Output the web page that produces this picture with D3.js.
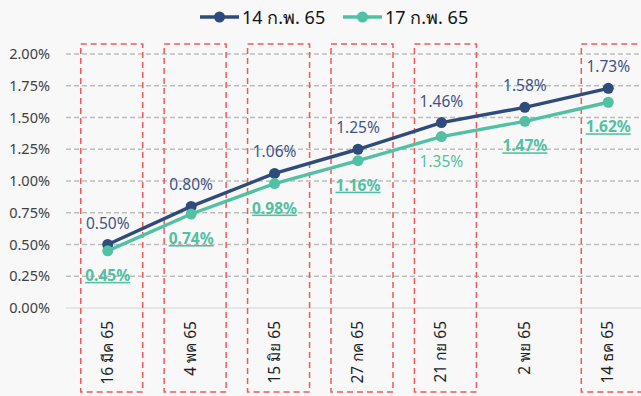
<!DOCTYPE html>
<html>
<head>
<meta charset="utf-8">
<script src="https://cdn.jsdelivr.net/npm/d3@7"></script>
<style>
  body { margin: 0; background: #f7f7f7; }
  svg { display: block; font-family: "Noto Sans", "DejaVu Sans", sans-serif; }
</style>
</head>
<body>
<svg id="chart"></svg>
<script>
const categories = ["16 มีค 65", "4 พค 65", "15 มิย 65", "27 กค 65", "21 กย 65", "2 พย 65", "14 ธค 65"];
const seriesNames = ["14 ก.พ. 65", "17 ก.พ. 65"];
const feb14 = [0.50, 0.80, 1.06, 1.25, 1.46, 1.58, 1.73];
const feb17 = [0.45, 0.74, 0.98, 1.16, 1.35, 1.47, 1.62];
// which teal labels are shown plain (not bold/underlined)
const feb17Plain = [false, false, false, false, true, false, false];
const boxed = ["16 มีค 65", "4 พค 65", "15 มิย 65", "27 กค 65", "21 กย 65", "14 ธค 65"];
const yTicks = [0, 0.25, 0.5, 0.75, 1.0, 1.25, 1.5, 1.75, 2.0];

const W = 641, H = 396;
const navy = "#2f4b7c", teal = "#52c0a2";

const svg = d3.select("#chart").attr("width", W).attr("height", H);

// faint background
svg.append("rect").attr("width", W).attr("height", H).attr("fill", "#f8f8f8");

let x = d3.scaleBand()
  .domain(categories)
  .range([66, 650])
  .padding(0);
let y = d3.scaleLinear()
  .domain([0, 2])
  .range([308, 54]);
const cx = d => x(d) + x.bandwidth() / 2;

// gridlines
svg.append("g").selectAll("line")
  .data(yTicks.filter(d => d > 0))
  .enter().append("line")
  .attr("x1", 66).attr("x2", W)
  .attr("y1", d => y(d)).attr("y2", d => y(d))
  .style("stroke", "#bdbdbd")
  .style("stroke-width", 1.3)
  .style("stroke-dasharray", "5,3");
svg.append("line") // zero line
  .attr("x1", 66).attr("x2", W)
  .attr("y1", y(0)).attr("y2", y(0))
  .style("stroke", "#d4d4d4")
  .style("stroke-width", 1);

// y axis labels
let yAxis = d3.axisLeft(y).tickValues(yTicks).tickSize(0).tickPadding(0)
  .tickFormat(d => d3.format(".2f")(d) + "%");
svg.append("g")
  .attr("transform", "translate(50,0)")
  .call(yAxis)
  .call(g => {
    g.select(".domain").remove();
    g.selectAll(".tick text")
      .attr("fill", "#404040")
      .style("font-size", "14.5px")
      .style("font-family", "'Noto Sans', 'DejaVu Sans', sans-serif");
  });

// x labels (rotated)
svg.append("g").selectAll("text")
  .data(categories)
  .enter().append("text")
  .attr("transform", d => `translate(${cx(d) + 5},321) rotate(-90)`)
  .attr("text-anchor", "end")
  .attr("fill", "#1e1e1e")
  .style("font-size", "15.5px")
  .text(d => d);

// red dashed boxes
svg.append("g").selectAll("rect")
  .data(boxed)
  .enter().append("rect")
  .attr("x", d => cx(d) - 27)
  .attr("y", 44)
  .attr("width", 62)
  .attr("height", 348)
  .attr("fill", "none")
  .style("stroke", "#ee5a5a")
  .style("stroke-width", 1.5)
  .style("stroke-dasharray", "6,4");

// lines
const line = d3.line().x((d, i) => cx(categories[i])).y(d => y(d));
[[feb14, navy], [feb17, teal]].forEach(([vals, col]) => {
  svg.append("path")
    .datum(vals)
    .attr("d", line)
    .attr("fill", "none")
    .style("stroke", col)
    .style("stroke-width", 3.4);
  svg.append("g").selectAll("circle")
    .data(vals)
    .enter().append("circle")
    .attr("cx", (d, i) => cx(categories[i]))
    .attr("cy", d => y(d))
    .attr("r", 5.5)
    .attr("fill", col);
});

// data labels
svg.append("g").selectAll("text")
  .data(feb14)
  .enter().append("text")
  .attr("x", (d, i) => cx(categories[i]))
  .attr("y", d => y(d) - 16)
  .attr("text-anchor", "middle")
  .attr("fill", "#3e5485")
  .style("font-size", "15.5px")
  .text(d => d3.format(".2f")(d) + "%");

svg.append("g").selectAll("text")
  .data(feb17)
  .enter().append("text")
  .attr("x", (d, i) => cx(categories[i]))
  .attr("y", d => y(d) + 30)
  .attr("text-anchor", "middle")
  .attr("fill", teal)
  .style("font-size", "15.5px")
  .style("font-weight", (d, i) => feb17Plain[i] ? "normal" : "bold")
  .style("text-decoration", (d, i) => feb17Plain[i] ? "none" : "underline")
  .text(d => d3.format(".2f")(d) + "%");

// legend
const legend = svg.append("g");
const legendX = [200, 343];
seriesNames.forEach((name, i) => {
  const col = i === 0 ? navy : teal;
  const g = legend.append("g").attr("transform", `translate(${legendX[i]},17)`);
  g.append("line").attr("x1", 0).attr("x2", 39).attr("y1", 0).attr("y2", 0)
    .style("stroke", col).style("stroke-width", 3.4);
  g.append("circle").attr("cx", 19.5).attr("cy", 0).attr("r", 5.5).attr("fill", col);
  g.append("text").attr("x", 42).attr("y", 6.5)
    .attr("fill", "#111")
    .style("font-size", "18px")
    .text(name);
});
</script>
</body>
</html>
